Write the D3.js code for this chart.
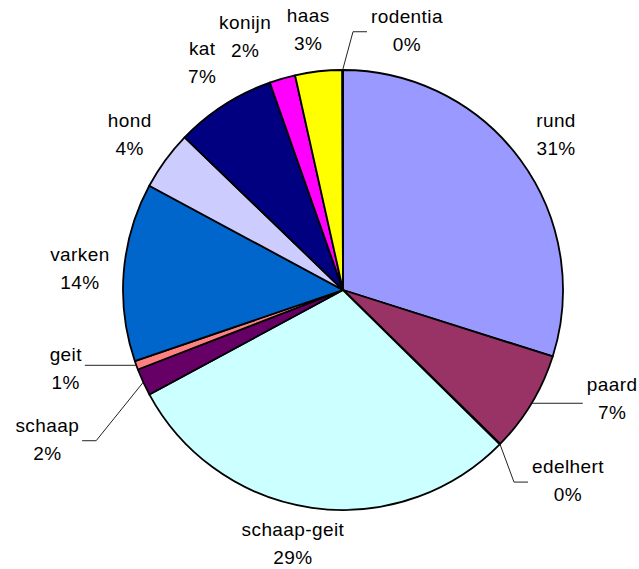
<!DOCTYPE html>
<html>
<head>
<meta charset="utf-8">
<script src="https://cdn.jsdelivr.net/npm/d3@7"></script>
<style>
  body { margin: 0; background: #fff; }
  svg { display: block; }
</style>
</head>
<body>
<div id="chart"></div>
<script>
// slice values (share of the circle), label texts as printed
const categories = ["rund", "paard", "edelhert", "schaap-geit", "schaap", "geit", "varken", "hond", "kat", "konijn", "haas", "rodentia"];
const values = [29.9, 7.45, 0.05, 29.75, 2.0, 0.65, 13.1, 4.35, 7.4, 1.9, 3.45, 0.05];
const pctLabels = ["31%", "7%", "0%", "29%", "2%", "1%", "14%", "4%", "7%", "2%", "3%", "0%"];
const colors = ["#9999FF", "#993366", "#FFFFCC", "#CCFFFF", "#660066", "#FF8080", "#0066CC", "#CCCCFF", "#000080", "#FF00FF", "#FFFF00", "#00FFFF"];

const width = 639;
const height = 569;
const cx = 343;
const cy = 290;
const radius = 220;
const labelRadius = 264;

// labels that Excel pushed away from the slice middle (degrees clockwise from 12 o'clock)
const labelMoves = {
  "paard": {angle: 111.9, r: 290, leader: true},
  "edelhert": {angle: 130.2, r: 294.5, leader: true},
  "schaap-geit": {angle: 191.2, r: 258},
  "schaap": {angle: 243.3, r: 331, leader: true},
  "geit": {angle: 254.3, r: 288, leader: true},
  "kat": {angle: 328.3, r: 268},
  "konijn": {angle: 338.9, r: 272},
  "haas": {angle: 352.4, r: 263},
  "rodentia": {angle: 13.8, r: 268, leader: true}
};

const data = categories.map((c, i) => ({name: c, value: values[i], pct: pctLabels[i], color: colors[i]}));

const pie = d3.pie().sort(null).value(d => d.value);
const arc = d3.arc().innerRadius(0).outerRadius(radius);
const arcs = pie(data);

const svg = d3.create("svg")
    .attr("width", width)
    .attr("height", height)
    .attr("viewBox", [0, 0, width, height]);

svg.append("rect").attr("width", width).attr("height", height).attr("fill", "white");

const g = svg.append("g").attr("transform", `translate(${cx},${cy})`);

g.selectAll("path.slice")
  .data(arcs)
  .join("path")
    .attr("class", "slice")
    .attr("d", arc)
    .attr("fill", d => d.data.color)
    .attr("stroke", "black")
    .attr("stroke-width", 1.8)
    .attr("stroke-linejoin", "round");

function polar(angleDeg, r) {
  const a = angleDeg * Math.PI / 180;
  return [r * Math.sin(a), -r * Math.cos(a)];
}

const labels = g.append("g")
    .attr("font-family", "'Liberation Sans', Arial, sans-serif")
    .attr("font-size", 19)
    .attr("letter-spacing", "0.4px")
    .attr("fill", "black")
    .attr("text-anchor", "middle");

const leaders = g.append("g")
    .attr("fill", "none")
    .attr("stroke", "#222")
    .attr("stroke-width", 1);

arcs.forEach(d => {
  const mid = (d.startAngle + d.endAngle) / 2 * 180 / Math.PI;
  const move = labelMoves[d.data.name];
  const pos = move ? polar(move.angle, move.r) : polar(mid, labelRadius);

  const t = labels.append("text").attr("transform", `translate(${pos[0]},${pos[1]})`);
  const l1 = t.append("tspan").attr("x", 0).attr("y", -7).text(d.data.name);
  const l2 = t.append("tspan").attr("x", 0).attr("y", 21).text(d.data.pct);

  if (move && move.leader) {
    d.pos = pos;
    d.lines = [l1, l2];
    d.mid = mid;
  }
});

document.getElementById("chart").append(svg.node());

// leader lines need the text widths, so draw them after the svg is in the page
arcs.filter(d => d.lines).forEach(d => {
  const w = Math.max(...d.lines.map(l => l.node().getComputedTextLength()));
  const edge = polar(d.mid, radius);
  const right = d.pos[0] > edge[0];
  const endX = right ? d.pos[0] - w / 2 - 4 : d.pos[0] + w / 2 + 3;
  let pts;
  if (Math.abs(edge[1] - d.pos[1]) < 12) {
    pts = [edge, [endX, edge[1]]];
  } else {
    const y = d.pos[1] + 2;
    const elbowX = right ? endX - 14 : endX + 14;
    pts = [edge, [elbowX, y], [endX, y]];
  }
  leaders.append("path").attr("d", d3.line()(pts));
});
</script>
</body>
</html>
